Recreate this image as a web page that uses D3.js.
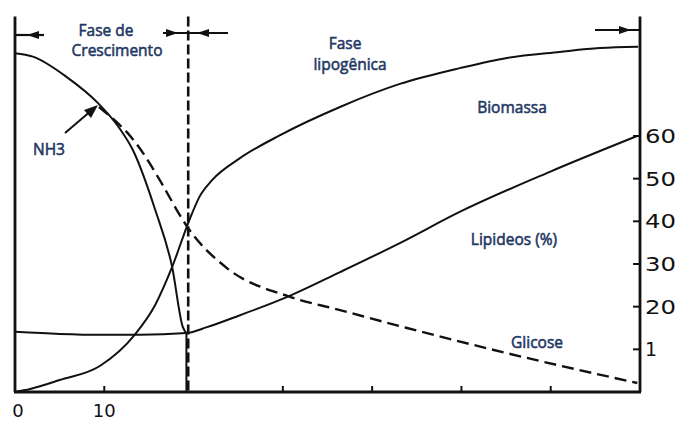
<!DOCTYPE html>
<html>
<head>
<meta charset="utf-8">
<script src="https://cdn.jsdelivr.net/npm/d3@7"></script>
<style>
  body { margin: 0; background: #fff; }
</style>
</head>
<body>
<svg id="chart"></svg>
<script>
// values: x = time, y = right axis (%)
const nh3 = [[0, 79.4], [2, 78.6], [5.8, 73.8], [9.3, 67.7], [11.5, 62.4], [13.2, 56.7], [15.7, 42.7], [17.6, 29.3], [18.8, 15.2], [19.2, 13.8], [19.2, 0]];
const glicose = [[9.4, 66.8], [11.3, 63.4], [12.9, 60.0], [14.6, 55.2], [16.4, 49.0], [18.8, 40.3], [19.4, 38.4], [23.7, 29.1], [30.5, 22.5], [36.4, 19.2], [43.9, 15.0], [55.1, 9.1], [69.7, 2.1]];
const biomassa = [[0, 0], [1.7, 0.7], [5, 2.8], [9.5, 6.1], [13.4, 13.4], [15.7, 20.4], [17.6, 29.3], [19.4, 39.6], [20.7, 45.9], [22.1, 49.7], [25.2, 54.8], [29.7, 60.2], [36.4, 66.8], [43.1, 72.2], [49.8, 75.9], [55.1, 78.3], [61, 79.7], [65.5, 80.6], [69.8, 80.9]];
const lipideos = [[0, 14.1], [5, 13.6], [9.5, 13.4], [14, 13.4], [19.2, 13.8], [21.5, 15.2], [25.2, 18.0], [30.5, 22.3], [36.4, 28.1], [43.1, 34.9], [49.8, 42.2], [59.9, 51.6], [69.7, 60.0]];

const xTicks = [10, 30, 40, 50, 60];
const xTickLabels = [0, 10];
const yTicks = [10, 20, 30, 40, 50, 60];
const yTickLabels = ["1", "20", "30", "40", "50", "60"];
const phaseLimits = [0, 19.4, 70];

const width = 680,
  height = 421;
const svg = d3.select("#chart").attr("width", width).attr("height", height);

const x = d3.scaleLinear().domain([0, 70]).range([15, 640]);
const y = d3.scaleLinear().domain([0, 88]).range([392, 16.5]);

const ink = "#111";
const labelColor = "#1f3864";

const line = d3
  .line()
  .x((d) => x(d[0]))
  .y((d) => y(d[1]))
  .curve(d3.curveMonotoneX);

// phase divider
svg
  .append("line")
  .attr("x1", x(phaseLimits[1]))
  .attr("x2", x(phaseLimits[1]))
  .attr("y1", y(88))
  .attr("y2", y(0))
  .attr("stroke", ink)
  .attr("stroke-width", 2.6)
  .attr("stroke-dasharray", "10,4");

// curves; NH3 ends in a straight drop to zero
const nh3End = nh3[nh3.length - 1];
const nh3Path = line(nh3.slice(0, -1)) + `L${x(nh3End[0])},${y(nh3End[1])}`;
[nh3Path, line(biomassa), line(lipideos)].forEach((d) => {
  svg
    .append("path")
    .attr("d", d)
    .attr("fill", "none")
    .attr("stroke", ink)
    .attr("stroke-width", 2);
});
svg
  .append("path")
  .attr("d", line(glicose))
  .attr("fill", "none")
  .attr("stroke", ink)
  .attr("stroke-width", 2.4)
  .attr("stroke-dasharray", "12,6");

// axes frame: left, right, bottom
const axisG = svg.append("g").attr("stroke", ink).attr("stroke-width", 2.8);
axisG.append("line").attr("x1", x(0)).attr("x2", x(0)).attr("y1", y(88)).attr("y2", y(0));
axisG.append("line").attr("x1", x(70)).attr("x2", x(70)).attr("y1", y(88)).attr("y2", y(0));
axisG.append("line").attr("x1", x(0) - 1).attr("x2", x(70) + 1).attr("y1", y(0)).attr("y2", y(0));

// bottom ticks (pointing up)
svg
  .selectAll(".xtick")
  .data(xTicks)
  .join("line")
  .attr("class", "xtick")
  .attr("x1", (d) => x(d))
  .attr("x2", (d) => x(d))
  .attr("y1", y(0))
  .attr("y2", y(0) - 6)
  .attr("stroke", ink)
  .attr("stroke-width", 2);

svg
  .selectAll(".xlabel")
  .data(xTickLabels)
  .join("text")
  .attr("class", "xlabel")
  .attr("x", (d) => x(d) + (d === 0 ? 3 : 0))
  .attr("y", 417)
  .attr("text-anchor", "middle")
  .attr("font-family", "DejaVu Sans")
  .attr("font-size", 18)
  .attr("fill", ink)
  .text((d) => d);

// right ticks (pointing in)
svg
  .selectAll(".ytick")
  .data(yTicks)
  .join("line")
  .attr("class", "ytick")
  .attr("x1", x(70))
  .attr("x2", x(70) - 7)
  .attr("y1", (d) => y(d))
  .attr("y2", (d) => y(d))
  .attr("stroke", ink)
  .attr("stroke-width", 2);

svg
  .selectAll(".ylabel")
  .data(yTicks)
  .join("text")
  .attr("class", "ylabel")
  .attr("x", x(70) + 5)
  .attr("y", (d) => y(d) + 7)
  .attr("font-family", "DejaVu Sans")
  .attr("font-size", 19)
  .attr("fill", ink)
  .each(function (d, i) {
    if (yTickLabels[i].length > 1)
      d3.select(this).attr("textLength", 31).attr("lengthAdjust", "spacingAndGlyphs");
  })
  .text((d, i) => yTickLabels[i]);

// phase arrows
function arrowHead(tipX, tipY, dir) {
  const len = 12,
    half = 4;
  svg
    .append("path")
    .attr(
      "d",
      `M${tipX},${tipY} L${tipX - dir * len},${tipY - half} L${tipX - dir * len},${tipY + half} Z`
    )
    .attr("fill", ink);
}
function hLine(x1, x2, yy) {
  svg
    .append("line")
    .attr("x1", x1)
    .attr("x2", x2)
    .attr("y1", yy)
    .attr("y2", yy)
    .attr("stroke", ink)
    .attr("stroke-width", 2.2);
}
hLine(x(phaseLimits[0]), 44, 35);
arrowHead(27, 35, -1);
hLine(163, 228, 33);
arrowHead(178, 33, 1);
arrowHead(197, 33, -1);
hLine(595, x(phaseLimits[2]), 30);
arrowHead(631, 30, 1);

// NH3 pointer
svg
  .append("line")
  .attr("x1", 65)
  .attr("y1", 133)
  .attr("x2", 92)
  .attr("y2", 110)
  .attr("stroke", ink)
  .attr("stroke-width", 2);
svg
  .append("path")
  .attr("d", "M98,105 L84,110 L91,118 Z")
  .attr("fill", ink);

// labels
const labels = [
  { t: "Fase de", x: 106, y: 36 },
  { t: "Crescimento", x: 117, y: 56 },
  { t: "Fase", x: 345, y: 49 },
  { t: "lipogênica", x: 350, y: 70 },
  { t: "Biomassa", x: 512, y: 113 },
  { t: "NH3", x: 49, y: 155 },
  { t: "Lipideos (%)", x: 514, y: 245 },
  { t: "Glicose", x: 537, y: 348 },
];
svg
  .selectAll(".lbl")
  .data(labels)
  .join("text")
  .attr("class", "lbl")
  .attr("x", (d) => d.x)
  .attr("y", (d) => d.y)
  .attr("text-anchor", "middle")
  .attr("font-family", "Open Sans")
  .attr("font-size", 15.5)
  .attr("fill", labelColor)
  .attr("stroke", labelColor)
  .attr("stroke-width", 0.55)
  .text((d) => d.t);
</script>
</body>
</html>
